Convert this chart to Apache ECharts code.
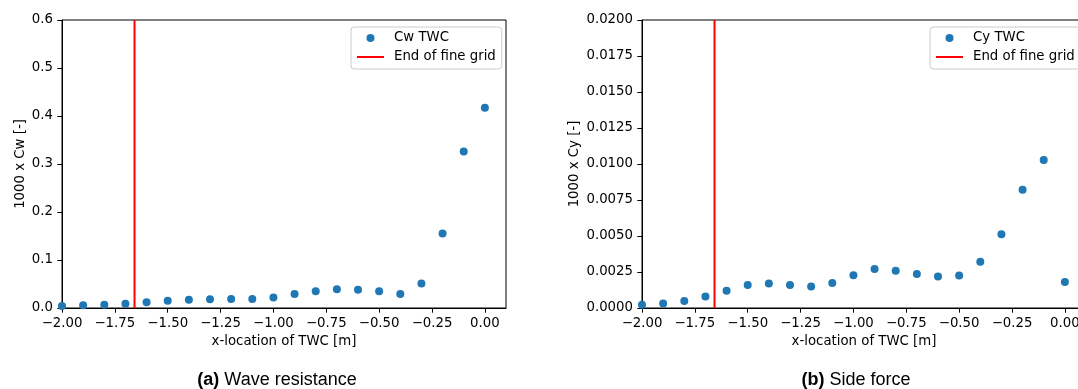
<!DOCTYPE html>
<html>
<head>
<meta charset="utf-8">
<script src="https://cdn.jsdelivr.net/npm/echarts@6/dist/echarts.min.js"></script>
<style>
html,body{margin:0;padding:0;background:#fff;}
#chart{width:1078px;height:389px;}
</style>
</head>
<body>
<div id="chart"></div>
<script>
// ---- data ----
const xLocations = [-2.0,-1.9,-1.8,-1.7,-1.6,-1.5,-1.4,-1.3,-1.2,-1.1,-1.0,-0.9,-0.8,-0.7,-0.6,-0.5,-0.4,-0.3,-0.2,-0.1,0.0];
const cwValues = [0.004,0.0055,0.007,0.009,0.012,0.015,0.017,0.018,0.019,0.019,0.022,0.029,0.035,0.039,0.038,0.035,0.029,0.051,0.155,0.326,0.417];
const cyValues = [0.00023,0.00032,0.00049,0.00079,0.0012,0.0016,0.0017,0.0016,0.0015,0.00174,0.00227,0.00271,0.00259,0.00236,0.00218,0.00225,0.00322,0.00512,0.00822,0.01028,0.00181];
const fineGridEnd = -1.657;
const xTicks = [-2.0,-1.75,-1.5,-1.25,-1.0,-0.75,-0.5,-0.25,0.0];
const cwTicks = [0,0.1,0.2,0.3,0.4,0.5,0.6];
const cyTicks = [0,0.0025,0.005,0.0075,0.01,0.0125,0.015,0.0175,0.02];
const seriesNames = ['Cw TWC','Cy TWC','End of fine grid'];
const captions = [['(a)',' Wave resistance'],['(b)',' Side force']];
const xAxisTitle = 'x-location of TWC [m]';
const yAxisTitles = ['1000 x Cw [-]','1000 x Cy [-]'];

const FONT = 'DejaVu Sans';
const FS = 13.3;
const fmt = (v, d) => {
  const s = Math.abs(v).toFixed(d);
  return (v < -1e-12 ? '\u2212' : '') + s;
};

function xAxisCfg(gi){
  return {
    type:'value', gridIndex:gi, min:-2, max:0.1,
    name:xAxisTitle, nameLocation:'middle', nameGap:27,
    nameTextStyle:{fontFamily:FONT,fontSize:FS,color:'#000'},
    axisLine:{show:true,onZero:false,lineStyle:{color:'#000',width:1}},
    axisTick:{show:true,length:4.7,lineStyle:{color:'#000',width:1},customValues:xTicks},
    axisLabel:{show:true,margin:9,fontFamily:FONT,fontSize:FS,color:'#000',customValues:xTicks,formatter:v=>fmt(v,2)},
    splitLine:{show:false}
  };
}
function yAxisCfg(gi, ticks, dec, name, gap){
  return {
    type:'value', gridIndex:gi, min:ticks[0], max:ticks[ticks.length-1],
    name:name, nameLocation:'middle', nameGap:gap, nameRotate:90,
    nameTextStyle:{fontFamily:FONT,fontSize:FS,color:'#000'},
    axisLine:{show:true,onZero:false,lineStyle:{color:'#000',width:1}},
    axisTick:{show:true,length:4.7,lineStyle:{color:'#000',width:1},customValues:ticks},
    axisLabel:{show:true,margin:9,fontFamily:FONT,fontSize:FS,color:'#000',padding:[4,0,0,0],customValues:ticks,formatter:v=>fmt(v,dec)},
    splitLine:{show:false}
  };
}
function legendCfg(left, names){
  return {
    orient:'vertical', left:left, top:27,
    padding:[3,6,4,5], itemGap:3, itemWidth:27, itemHeight:8,
    borderColor:'#cccccc', borderWidth:1, borderRadius:3, backgroundColor:'rgba(255,255,255,0.85)',
    textStyle:{fontFamily:FONT,fontSize:FS,color:'#000',lineHeight:16,padding:[0,0,0,5]},
    selectedMode:false,
    data:[
      {name:names[0],icon:'circle'},
      {name:names[1],itemStyle:{color:'rgba(0,0,0,0)',borderWidth:0,opacity:0},lineStyle:{color:'#ff0000',width:2}}
    ]
  };
}

const chart = echarts.init(document.getElementById('chart'), null, {renderer:'canvas'});
const option = {
  animation:false,
  backgroundColor:'#fff',
  grid:[
    {left:62,top:20,width:444,height:288,show:true,borderColor:'#000',borderWidth:1,backgroundColor:'transparent',outerBoundsMode:'none',containLabel:false},
    {left:642,top:20,width:444,height:288,show:true,borderColor:'#000',borderWidth:1,backgroundColor:'transparent',outerBoundsMode:'none',containLabel:false}
  ],
  xAxis:[xAxisCfg(0), xAxisCfg(1)],
  yAxis:[yAxisCfg(0,cwTicks,1,yAxisTitles[0],35), yAxisCfg(1,cyTicks,4,yAxisTitles[1],61)],
  legend:[legendCfg(351,[seriesNames[0],seriesNames[2]]), legendCfg(930,[seriesNames[1],seriesNames[2]])],
  series:[
    {type:'scatter',name:seriesNames[0],xAxisIndex:0,yAxisIndex:0,symbol:'circle',symbolSize:8,
     itemStyle:{color:'#1f77b4',opacity:1},data:xLocations.map((x,i)=>[x,cwValues[i]])},
    {type:'line',name:seriesNames[2],xAxisIndex:0,yAxisIndex:0,symbol:'none',showSymbol:false,
     lineStyle:{color:'#ff0000',width:2},itemStyle:{color:'#ff0000'},
     data:[[fineGridEnd,cwTicks[0]],[fineGridEnd,cwTicks[cwTicks.length-1]]]},
    {type:'scatter',name:seriesNames[1],xAxisIndex:1,yAxisIndex:1,symbol:'circle',symbolSize:8,
     itemStyle:{color:'#1f77b4',opacity:1},data:xLocations.map((x,i)=>[x,cyValues[i]])},
    {type:'line',name:seriesNames[2],xAxisIndex:1,yAxisIndex:1,symbol:'none',showSymbol:false,
     lineStyle:{color:'#ff0000',width:2},itemStyle:{color:'#ff0000'},
     data:[[fineGridEnd,cyTicks[0]],[fineGridEnd,cyTicks[cyTicks.length-1]]]}
  ],
  graphic:[
    {type:'text',x:277,y:380,style:{text:'{b|'+captions[0][0]+'}{r|'+captions[0][1]+'}',align:'center',verticalAlign:'middle',
      rich:{b:{fontFamily:'Liberation Sans',fontSize:18,fontWeight:'bold',fill:'#000'},r:{fontFamily:'Liberation Sans',fontSize:18,fill:'#000'}}}},
    {type:'text',x:856,y:380,style:{text:'{b|'+captions[1][0]+'}{r|'+captions[1][1]+'}',align:'center',verticalAlign:'middle',
      rich:{b:{fontFamily:'Liberation Sans',fontSize:18,fontWeight:'bold',fill:'#000'},r:{fontFamily:'Liberation Sans',fontSize:18,fill:'#000'}}}}
  ]
};
chart.setOption(option);
</script>
</body>
</html>
